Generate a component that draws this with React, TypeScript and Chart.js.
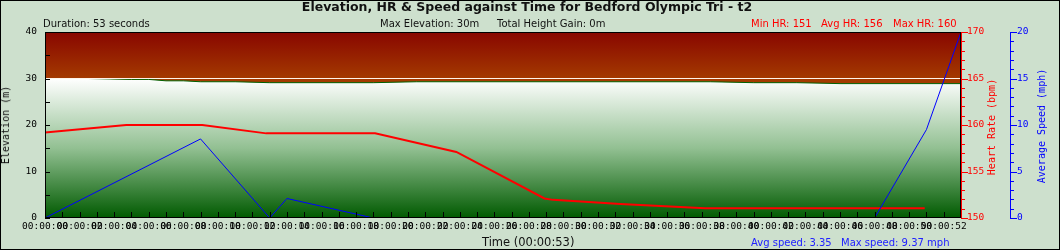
import React, { useEffect, useRef } from 'react';
import { Chart, registerables } from 'chart.js';

Chart.register(...registerables);

// ---- data (seconds / metres / bpm / mph) ----
const elevTimes = [0, 2.5, 5, 6, 7, 8, 9, 11, 13, 19, 21.5, 38.5, 41, 43.5, 46, 53];
const elevValues = [30, 30, 29.8, 29.8, 29.5, 29.5, 29.3, 29.3, 29.1, 29.1, 29.3, 29.3, 29.1, 29.1, 28.9, 28.9];
const maxElevTimes = [0, 53];
const maxElevValues = [30, 30];
const hrTimes = [0, 4.7, 9.1, 12.8, 19.1, 23.8, 28.9, 29.4, 33.3, 38.2, 50.9];
const hrValues = [159.2, 160, 160, 159.1, 159.1, 157.1, 152.1, 151.95, 151.5, 151.05, 151.05];
const spdTimes = [0, 9, 13, 14, 19, 48, 51, 53];
const spdValues = [0, 8.5, 0, 2.1, 0, 0, 9.5, 20];

const X_MIN = 0;
const X_MAX = 53;
const ELEV_MIN = 0;
const ELEV_MAX = 40;
const HR_MIN = 150;
const HR_MAX = 170;
const SPD_MIN = 0;
const SPD_MAX = 20;

const pad2 = (n: number) => String(n).padStart(2, '0');
const fmtTime = (s: number) => `00:${pad2(Math.floor(s / 60))}:${pad2(s % 60)}`;
const toPts = (xs: number[], ys: number[]) => xs.map((x, i) => ({ x, y: ys[i] }));

const MONO = "'DejaVu Sans Mono', monospace";
const SANS = "'DejaVu Sans', sans-serif";

const framePlugin = {
  id: 'frame',
  beforeDatasetsDraw(chart: any) {
    const { ctx, chartArea: a, scales } = chart;
    const y30 = scales.y.getPixelForValue(30);
    const g = ctx.createLinearGradient(0, a.top, 0, y30);
    g.addColorStop(0, '#880600');
    g.addColorStop(1, '#a43a00');
    ctx.save();
    ctx.fillStyle = g;
    ctx.fillRect(a.left, a.top, a.right - a.left, a.bottom - a.top);
    ctx.restore();
  },
  afterDatasetsDraw(chart: any) {
    const { ctx, chartArea: a, scales } = chart;
    ctx.save();
    ctx.lineWidth = 1;
    // x ticks (inward)
    ctx.strokeStyle = '#000';
    ctx.beginPath();
    for (const t of scales.x.ticks) {
      const px = Math.round(scales.x.getPixelForValue(t.value)) + 0.5;
      ctx.moveTo(px, a.bottom - 1);
      ctx.lineTo(px, a.bottom - 6);
    }
    // left y ticks (inward)
    for (const t of scales.y.ticks) {
      const py = Math.round(scales.y.getPixelForValue(t.value)) + 0.5;
      ctx.moveTo(a.left, py);
      ctx.lineTo(a.left + 5, py);
    }
    ctx.stroke();
    // frame
    ctx.strokeRect(a.left + 0.5, a.top + 0.5, a.right - a.left - 1, a.bottom - a.top - 1);
    // HR axis
    ctx.strokeStyle = '#ff0000';
    ctx.beginPath();
    ctx.moveTo(a.right + 0.5, a.top);
    ctx.lineTo(a.right + 0.5, a.bottom);
    for (const t of scales.yHR.ticks) {
      const py = Math.round(scales.yHR.getPixelForValue(t.value)) + 0.5;
      const len = t.value % 5 === 0 ? 6 : 3;
      ctx.moveTo(a.right, py);
      ctx.lineTo(a.right + 1 + len, py);
    }
    ctx.stroke();
    // speed axis
    const s = scales.ySpd;
    ctx.strokeStyle = '#0000ff';
    ctx.beginPath();
    ctx.moveTo(s.left + 0.5, a.top);
    ctx.lineTo(s.left + 0.5, a.bottom + 1);
    for (const t of s.ticks) {
      const py = Math.round(s.getPixelForValue(t.value)) + 0.5;
      const len = t.value % 5 === 0 ? 6 : 3;
      ctx.moveTo(s.left, py);
      ctx.lineTo(s.left + 1 + len, py);
    }
    ctx.stroke();
    ctx.restore();
  },
};

function App() {
  const ref = useRef<HTMLCanvasElement | null>(null);

  useEffect(() => {
    document.body.style.margin = '0';
    const canvas = ref.current;
    if (!canvas) return;
    const chart = new Chart(canvas, {
      type: 'line',
      data: {
        datasets: [
          {
            label: 'Speed',
            data: toPts(spdTimes, spdValues),
            yAxisID: 'ySpd',
            borderColor: '#0000ff',
            borderWidth: 1,
            pointRadius: 0,
            fill: false,
            clip: 0,
          },
          {
            label: 'HR',
            data: toPts(hrTimes, hrValues),
            yAxisID: 'yHR',
            borderColor: '#ff0000',
            borderWidth: 2,
            pointRadius: 0,
            fill: false,
          },
          {
            label: 'Max elevation',
            data: toPts(maxElevTimes, maxElevValues),
            yAxisID: 'y',
            borderColor: '#fff4ea',
            borderWidth: 1,
            pointRadius: 0,
            fill: false,
          },
          {
            label: 'Elevation',
            data: toPts(elevTimes, elevValues),
            yAxisID: 'y',
            borderColor: '#006000',
            borderWidth: 1,
            pointRadius: 0,
            fill: 'origin',
            backgroundColor: (c: any) => {
              const chart = c.chart;
              const a = chart.chartArea;
              if (!a) return '#80b080';
              const top = chart.scales.y.getPixelForValue(30);
              const g = chart.ctx.createLinearGradient(0, top, 0, a.bottom);
              g.addColorStop(0, '#ffffff');
              g.addColorStop(0.5, '#92c092');
              g.addColorStop(1, '#005a00');
              return g;
            },
          },
        ],
      },
      options: {
        responsive: false,
        animation: false,
        devicePixelRatio: 1,
        events: [],
        layout: { padding: { top: 32, left: 0, right: 0, bottom: 0 } },
        elements: { line: { tension: 0 } },
        plugins: { legend: { display: false }, tooltip: { enabled: false } },
        scales: {
          x: {
            type: 'linear',
            min: X_MIN,
            max: X_MAX,
            grid: { display: false, drawTicks: false },
            border: { display: false },
            afterFit: (sc: any) => { sc.height = 32; },
            ticks: {
              stepSize: 1,
              autoSkip: false,
              maxRotation: 0,
              minRotation: 0,
              padding: 3,
              color: '#000',
              font: { family: MONO, size: 9.5 },
              callback: (v: any) => (Number(v) % 2 === 0 ? fmtTime(Number(v)) : ''),
            },
          },
          y: {
            type: 'linear',
            position: 'left',
            min: ELEV_MIN,
            max: ELEV_MAX,
            grid: { display: false, drawTicks: false },
            border: { display: false },
            afterFit: (sc: any) => { sc.width = 45; },
            ticks: {
              stepSize: 5,
              autoSkip: false,
              padding: 8,
              color: '#000',
              font: { family: MONO, size: 9.5 },
              callback: (v: any) => (Number(v) % 10 === 0 ? String(v) : ''),
            },
          },
          yHR: {
            type: 'linear',
            position: 'right',
            min: HR_MIN,
            max: HR_MAX,
            grid: { display: false, drawTicks: false },
            border: { display: false },
            afterFit: (sc: any) => { sc.width = 49; },
            ticks: {
              stepSize: 1,
              autoSkip: false,
              padding: 6,
              color: '#ff0000',
              font: { family: MONO, size: 9.5 },
              callback: (v: any) => (Number(v) % 5 === 0 ? String(v) : ''),
            },
          },
          ySpd: {
            type: 'linear',
            position: 'right',
            min: SPD_MIN,
            max: SPD_MAX,
            grid: { display: false, drawTicks: false },
            border: { display: false },
            afterFit: (sc: any) => { sc.width = 50; },
            ticks: {
              stepSize: 1,
              autoSkip: false,
              padding: 7,
              color: '#0000ff',
              font: { family: MONO, size: 9.5 },
              callback: (v: any) => (Number(v) % 5 === 0 ? String(v) : ''),
            },
          },
        },
      },
      plugins: [framePlugin],
    } as any);
    return () => chart.destroy();
  }, []);

  const abs = (extra: React.CSSProperties): React.CSSProperties => ({
    position: 'absolute',
    whiteSpace: 'pre',
    lineHeight: 1,
    ...extra,
  });
  const rot = (x: number, y: number, color: string, text: string) => (
    <div
      style={abs({
        left: x,
        top: y,
        transform: 'translate(-50%, -50%) rotate(-90deg)',
        fontFamily: MONO,
        fontSize: 10,
        color,
      })}
    >
      {text}
    </div>
  );

  return (
    <div
      style={{
        position: 'relative',
        width: 1060,
        height: 250,
        background: '#cde0cd',
        overflow: 'hidden',
      }}
    >
      <canvas ref={ref} width={1060} height={250} style={{ position: 'absolute', left: 0, top: 0 }} />
      <div style={abs({ left: 0, top: 0.5, width: 1054, textAlign: 'center', fontFamily: SANS, fontWeight: 'bold', fontSize: 12.5, color: '#111' })}>
        Elevation, HR &amp; Speed against Time for Bedford Olympic Tri - t2
      </div>
      <div style={abs({ left: 43, top: 18.5, fontFamily: SANS, fontSize: 10, color: '#111' })}>Duration: 53 seconds</div>
      <div style={abs({ left: 380, top: 18.5, fontFamily: SANS, fontSize: 10, color: '#111' })}>Max Elevation: 30m</div>
      <div style={abs({ left: 497, top: 18.5, fontFamily: SANS, fontSize: 10, color: '#111' })}>Total Height Gain: 0m</div>
      <div style={abs({ left: 751, top: 18.5, fontFamily: SANS, fontSize: 10, color: '#ff0000' })}>Min HR: 151</div>
      <div style={abs({ left: 821, top: 18.5, fontFamily: SANS, fontSize: 10, color: '#ff0000' })}>Avg HR: 156</div>
      <div style={abs({ left: 893, top: 18.5, fontFamily: SANS, fontSize: 10, color: '#ff0000' })}>Max HR: 160</div>
      <div style={abs({ left: 482, top: 237, fontFamily: SANS, fontSize: 11.5, color: '#111' })}>Time (00:00:53)</div>
      <div style={abs({ left: 751, top: 237.5, fontFamily: SANS, fontSize: 10, color: '#2020ff' })}>Avg speed: 3.35</div>
      <div style={abs({ left: 841, top: 237.5, fontFamily: SANS, fontSize: 10, color: '#2020ff' })}>Max speed: 9.37 mph</div>
      {rot(6, 125, '#111', 'Elevation (m)')}
      {rot(992, 127, '#ff0000', 'Heart Rate (bpm)')}
      {rot(1042, 126, '#0000ff', 'Average Speed (mph)')}
      <div
        style={{
          position: 'absolute',
          left: 0,
          top: 0,
          width: 1060,
          height: 250,
          boxSizing: 'border-box',
          border: '1px solid #000',
          pointerEvents: 'none',
        }}
      />
    </div>
  );
}

export default App;
